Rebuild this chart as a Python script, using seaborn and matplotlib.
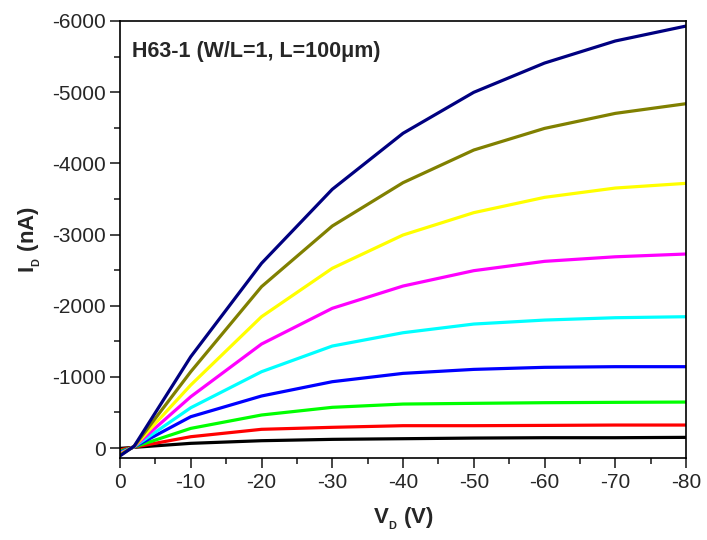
import matplotlib
matplotlib.use("Agg")
import matplotlib.pyplot as plt
from matplotlib.ticker import MultipleLocator
import seaborn as sns
import pandas as pd

# drain voltage steps (V)
vd = [0, -2, -10, -20, -30, -40, -50, -60, -70, -80]

# drain current (nA) for each gate-voltage curve, bottom to top
id_black = [5, -10, -66, -103, -122, -131, -140, -145, -145, -150]
id_red = [25, -12, -159, -263, -291, -314, -314, -318, -323, -323]
id_green = [45, -14, -276, -464, -572, -618, -628, -637, -642, -646]
id_blue = [60, -16, -440, -731, -932, -1049, -1105, -1134, -1143, -1143]
id_cyan = [70, -18, -566, -1072, -1433, -1620, -1742, -1798, -1831, -1845]
id_magenta = [80, -20, -721, -1461, -1963, -2276, -2492, -2623, -2687, -2726]
id_yellow = [90, -22, -885, -1845, -2525, -2993, -3307, -3522, -3653, -3719]
id_olive = [100, -24, -1072, -2267, -3119, -3728, -4187, -4491, -4702, -4838]
id_navy = [110, -26, -1283, -2595, -3635, -4422, -4998, -5409, -5719, -5929]

curves = [id_black, id_red, id_green, id_blue, id_cyan,
          id_magenta, id_yellow, id_olive, id_navy]
colors = ["#000000", "#FF0000", "#00FF00", "#0000FF", "#00FFFF",
          "#FF00FF", "#FFFF00", "#808000", "#000080"]

rows = []
for i, ys in enumerate(curves):
    for x, y in zip(vd, ys):
        rows.append({"VD": x, "ID": y, "curve": i})
df = pd.DataFrame(rows)

sns.set_style("ticks")
plt.rcParams["font.family"] = ["Liberation Sans", "DejaVu Sans"]
plt.rcParams["axes.unicode_minus"] = False
plt.rcParams["mathtext.fontset"] = "custom"
plt.rcParams["mathtext.rm"] = "Liberation Sans"
plt.rcParams["mathtext.bf"] = "Liberation Sans:bold"

fig = plt.figure(figsize=(7.07, 5.40), dpi=100)
ax = fig.add_axes([120 / 707, (540 - 458) / 540, 566 / 707, 437 / 540])

sns.lineplot(data=df, x="VD", y="ID", hue="curve", palette=colors,
             estimator=None, linewidth=2.3, legend=False, ax=ax)

ax.set_xlim(0, -80)
ax.set_ylim(140, -6000)
ax.xaxis.set_major_locator(MultipleLocator(10))
ax.xaxis.set_minor_locator(MultipleLocator(5))
ax.yaxis.set_major_locator(MultipleLocator(1000))
ax.yaxis.set_minor_locator(MultipleLocator(500))
ax.tick_params(which="major", direction="out", length=7, width=1.2, labelsize=15)
ax.tick_params(which="minor", direction="out", length=4, width=1.2)
for s in ax.spines.values():
    s.set_linewidth(1.2)
    s.set_color("black")

ax.set_xlabel(r"$\mathbf{V_{_D}}$ (V)", fontsize=16, fontweight="bold", labelpad=10)
ax.set_ylabel(r"$\mathbf{I_{_D}}$ (nA)", fontsize=16, fontweight="bold", labelpad=6)
ax.text(0.022, 0.955, "H63-1 (W/L=1, L=100\u03bcm)", transform=ax.transAxes,
        fontsize=15.5, fontweight="bold", va="top", ha="left")

fig.savefig("out.png", dpi=100)
